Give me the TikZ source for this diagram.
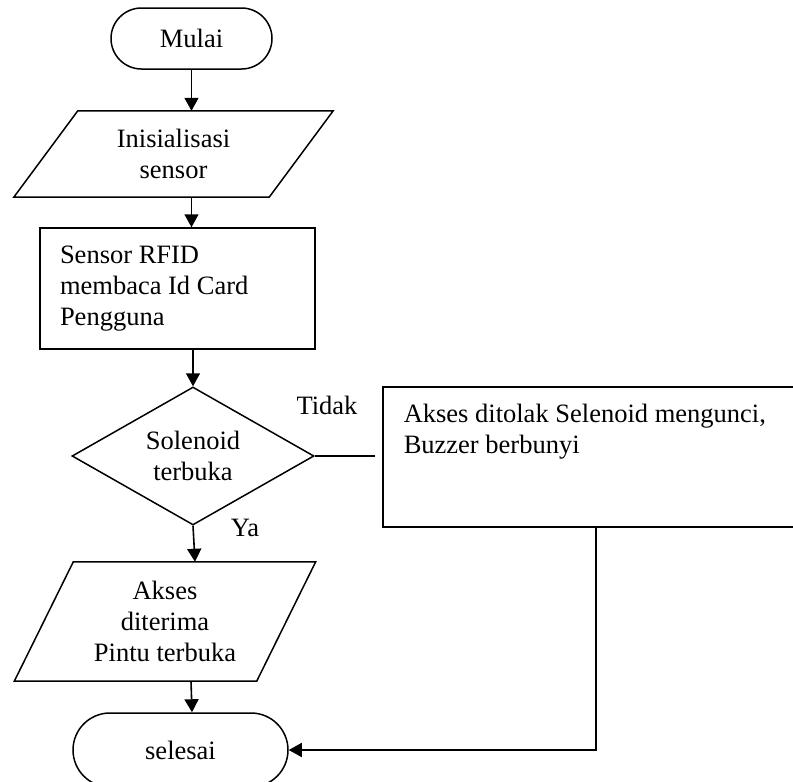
\documentclass[tikz,border=0pt]{standalone}
\usepackage{fontspec}
\setmainfont{Liberation Serif}
\usetikzlibrary{shapes.geometric,shapes.misc,arrows.meta,calc}
\newcommand\figfont{\fontsize{26.5pt}{31pt}\selectfont}
\begin{document}
\begin{tikzpicture}[x=1pt,y=-1pt,
  every node/.style={font=\figfont, inner sep=0pt},
  terminal/.style={draw, line width=1.5pt, rounded rectangle},
  procbox/.style={draw, line width=1.5pt, rectangle},
  decision/.style={draw, line width=1.5pt, diamond, aspect=1.75},
  arr/.style={line width=1.6pt, -{Triangle[length=13pt,width=14pt]}},
  plainline/.style={line width=1.5pt},
  outline/.style={line width=1.5pt, line join=miter}]
\useasboundingbox (0,0) rectangle (793,782);

\node[terminal, minimum width=161pt, minimum height=61pt] (mulai) at (191.5,38.5) {Mulai};

\node[minimum width=255pt, minimum height=86pt, align=center] (init) at (173.5,154) {Inisialisasi\\sensor};
\draw[outline] ($(init.north west)+(32,0)$) -- ($(init.north east)+(32,0)$) -- ($(init.south east)+(-32,0)$) -- ($(init.south west)+(-32,0)$) -- cycle;

\node[procbox, minimum width=275pt, minimum height=121pt, text width=235pt, inner xsep=20pt, align=flush left] (rfid) at (177.5,288.5) {Sensor RFID\\membaca Id Card\\Pengguna};

\node[decision, minimum width=242pt, minimum height=138pt, align=center] (dec) at (193,456) {Solenoid\\terbuka};

\node[procbox, anchor=north west, inner xsep=21pt, inner ysep=0pt] (tolak) at (382,386) {\parbox[c][140pt][t]{376pt}{\raggedright\rule{0pt}{36pt}Akses ditolak Selenoid mengunci,\\Buzzer berbunyi}};

\node[minimum width=242pt, minimum height=119pt, align=center] (acc) at (165,621.5) {Akses\\diterima\\Pintu terbuka};
\draw[outline] ($(acc.north west)+(29.5,0)$) -- ($(acc.north east)+(29.5,0)$) -- ($(acc.south east)+(-29.5,0)$) -- ($(acc.south west)+(-29.5,0)$) -- cycle;

\node[terminal, minimum width=215pt, minimum height=74pt] (selesai) at (180.5,750) {selesai};

\node (tidak) at (327,405) {Tidak};
\node (ya) at (245,528) {Ya};

\draw[arr] (mulai.south) -- (mulai.south |- init.north);
\draw[arr] (init.south -| mulai.south) -- (mulai.south |- rfid.north);
\draw[arr] (dec.north |- rfid.south) -- (dec.north);
\draw[arr] (dec.south) -- ([xshift=2pt]dec.south |- acc.north);
\draw[arr] ([xshift=-2pt]dec.south |- acc.south) -- ([xshift=-1pt]dec.south |- selesai.north);
\draw[plainline, shorten >=7pt] (dec.east) -- (tolak.west |- dec.east);
\draw[arr] ([xshift=4pt]tolak.south) |- (selesai.east);
\end{tikzpicture}
\end{document}
